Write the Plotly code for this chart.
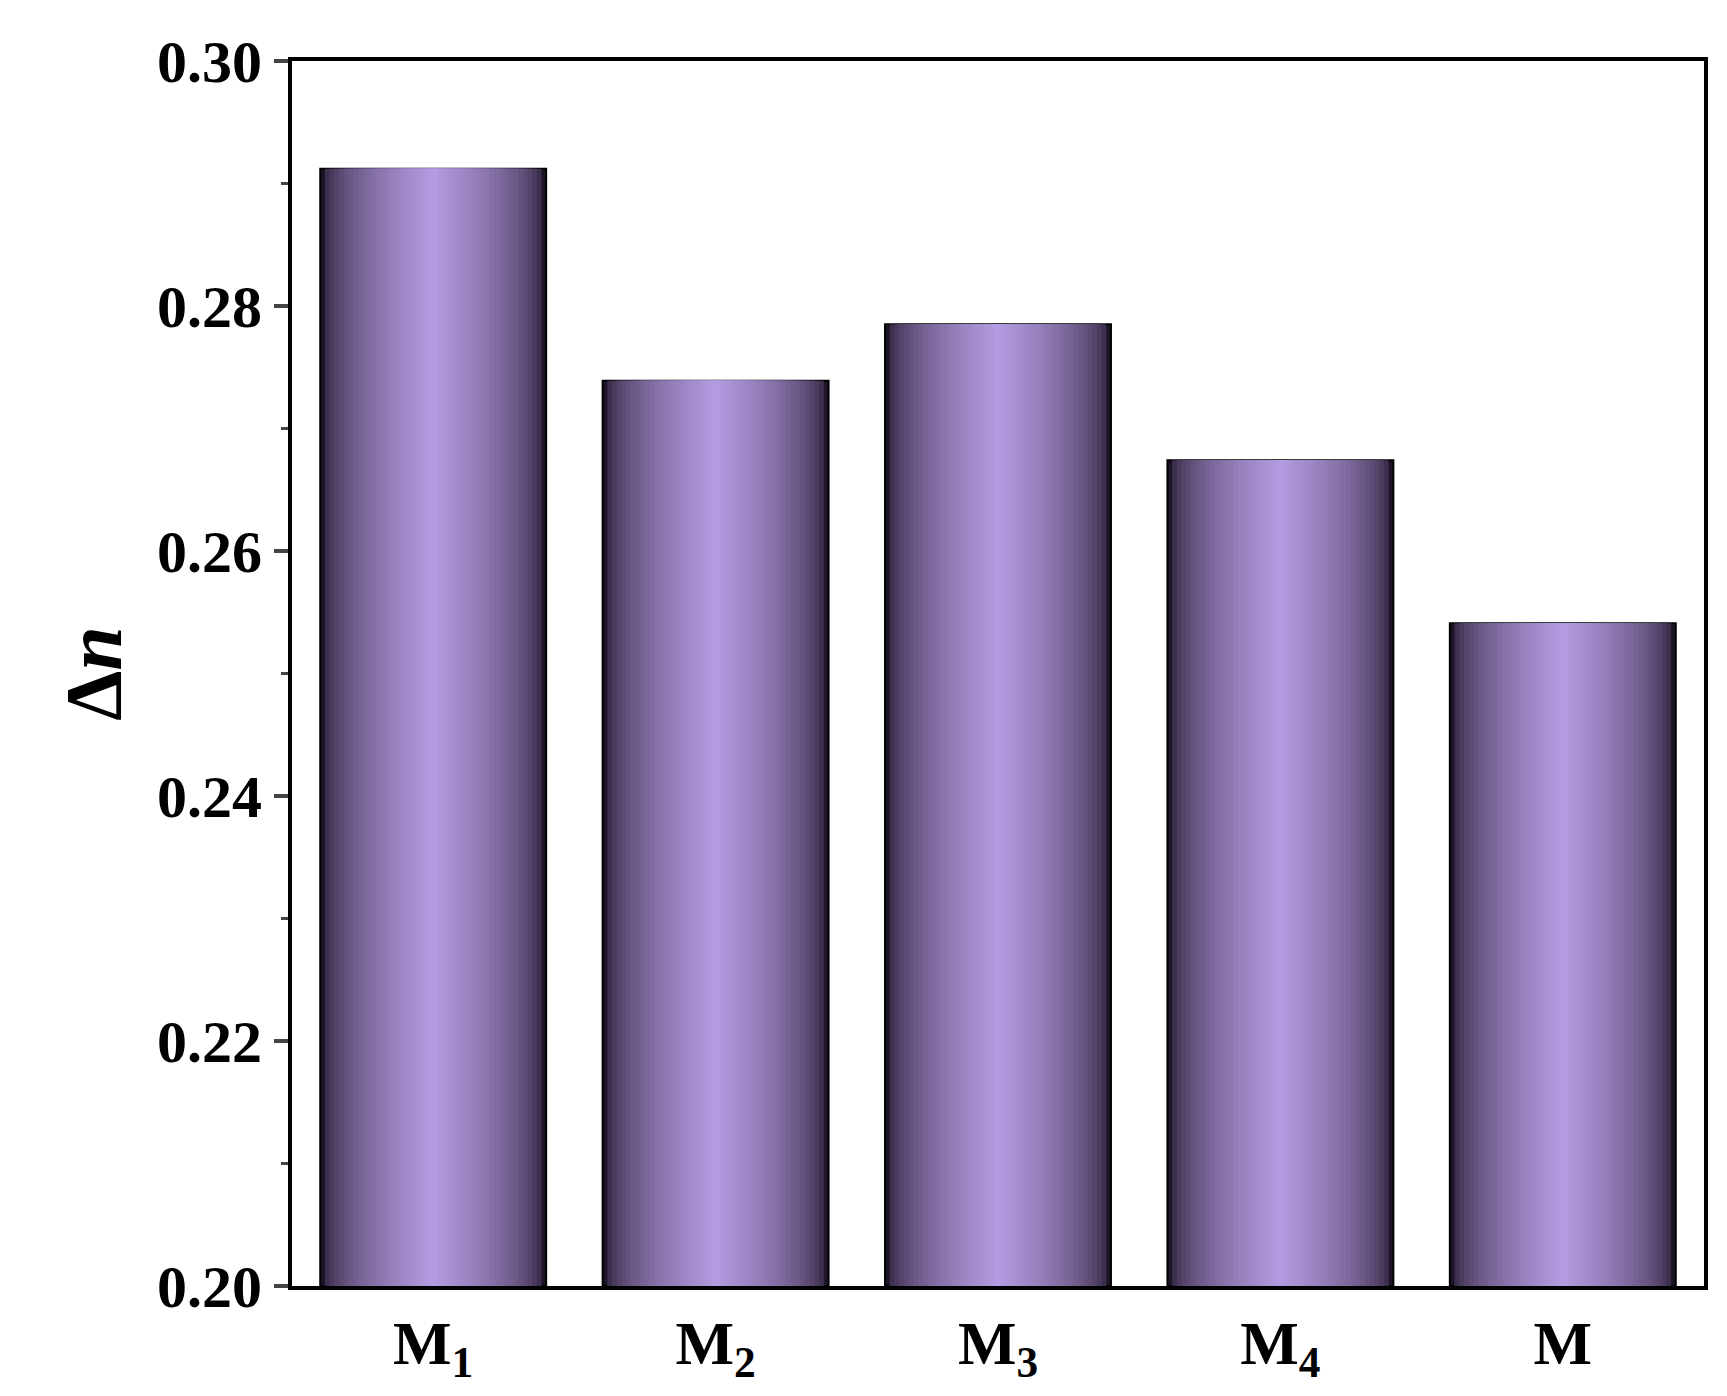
import plotly.graph_objects as go

categories = ["M1", "M2", "M3", "M4", "M"]
cat_labels = ["M<sub>1</sub>", "M<sub>2</sub>", "M<sub>3</sub>", "M<sub>4</sub>", "M"]
values = [0.2912, 0.2739, 0.2785, 0.2674, 0.2541]
y_ticks = [0.20, 0.22, 0.24, 0.26, 0.28, 0.30]

fig = go.Figure()
n = 24
dark = (30, 20, 40)
light = (180, 154, 224)
for i in range(n):
    t = i / (n - 1)
    c = tuple(int(dark[k] + (light[k] - dark[k]) * (t ** 0.5)) for k in range(3))
    w = 0.8 * (1 - i / n)
    fig.add_trace(go.Bar(
        x=categories, y=[v - 0.2 for v in values], base=0.2, width=w,
        marker=dict(color=f"rgb{c}", line=dict(width=2 if i == 0 else 0, color="black")),
        showlegend=False, hoverinfo="skip"))

fig.update_layout(
    barmode="overlay", width=1727, height=1396, plot_bgcolor="white", paper_bgcolor="white",
    margin=dict(l=284, r=31, t=53, b=118),
    font=dict(family="Liberation Serif", size=60, color="black"),
)
fig.update_xaxes(showline=True, linewidth=4, linecolor="black", mirror=True, ticks="",
                 tickfont=dict(size=62, family="Liberation Serif"), range=[-0.5, 4.5],
                 tickvals=categories, ticktext=[f"<b>{c}</b>" for c in cat_labels])
fig.update_yaxes(range=[0.2, 0.3], tickvals=y_ticks, ticktext=[f"<b>{v:.2f}</b>" for v in y_ticks],
                 tickfont=dict(size=60),
                 showline=True, linewidth=4, linecolor="black", mirror=True,
                 ticks="outside", ticklen=14, tickwidth=4, showgrid=False,
                 minor=dict(dtick=0.01, ticks="outside", ticklen=7, tickwidth=3),
                 title=dict(text="<b>Δ<i>n</i></b>", font=dict(size=80), standoff=10))
fig.write_html("out.html")
